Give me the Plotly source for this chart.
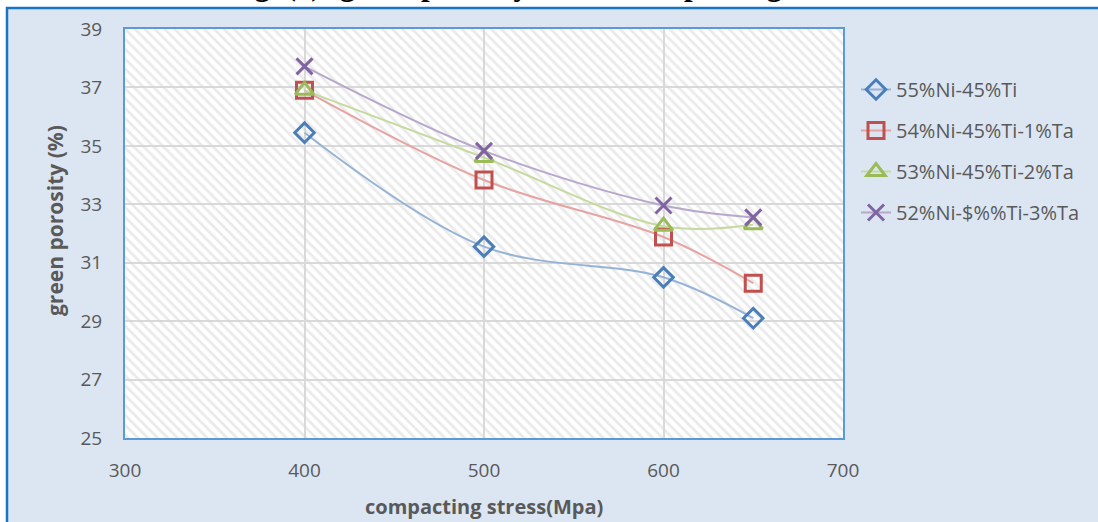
import plotly.graph_objects as go

# Compacting stress (MPa) and green porosity (%) for each alloy
stress = [400, 500, 600, 650]
series_names = [
    "55%Ni-45%Ti",
    "54%Ni-45%Ti-1%Ta",
    "53%Ni-45%Ti-2%Ta",
    "52%Ni-$%%Ti-3%Ta",
]
porosity_55ni = [35.45, 31.55, 30.5, 29.1]
porosity_54ni = [36.9, 33.83, 31.88, 30.3]
porosity_53ni = [36.9, 34.6, 32.25, 32.3]
porosity_52ni = [37.72, 34.83, 32.96, 32.55]

x_ticks = [300, 400, 500, 600, 700]
y_ticks = [25, 27, 29, 31, 33, 35, 37, 39]

X_MIN, X_MAX = x_ticks[0], x_ticks[-1]
Y_MIN, Y_MAX = y_ticks[0], y_ticks[-1]

TEXT_GREY = "#595959"
FONT = "Open Sans"

styles = [
    dict(line="#95b3d7", marker="#4a7ebb", symbol="diamond-open", size=15),
    dict(line="#e6a3a1", marker="#c0504d", symbol="square-open", size=16),
    dict(line="#c6da9f", marker="#9bbb59", symbol="triangle-up-open", size=16),
    dict(line="#b7a7cc", marker="#8064a2", symbol="x-thin-open", size=16),
]
values = [porosity_55ni, porosity_54ni, porosity_53ni, porosity_52ni]

fig = go.Figure()

# diagonal hatch over the plotting area
fig.add_trace(go.Scatter(
    x=[X_MIN, X_MAX, X_MAX, X_MIN, X_MIN],
    y=[Y_MIN, Y_MIN, Y_MAX, Y_MAX, Y_MIN],
    mode="none",
    fill="toself",
    fillcolor="rgba(0,0,0,0)",
    fillpattern=dict(shape="\\", fgcolor="#d6d6d6", bgcolor="rgba(0,0,0,0)",
                     size=7, solidity=0.4),
    hoverinfo="skip",
    showlegend=False,
))

for i, (name, ys, st) in enumerate(zip(series_names, values, styles)):
    fig.add_trace(go.Scatter(
        x=stress, y=ys, name=name,
        mode="lines+markers",
        line=dict(color=st["line"], width=2, shape="spline", smoothing=1),
        marker=dict(symbol=st["symbol"], size=st["size"], color=st["marker"],
                    line=dict(color=st["marker"], width=3)),
        legendgroup=f"g{i}",
    ))

L, R, T, B = 125, 255, 29, 84
plot_w = 1098 - L - R
plot_h = 522 - T - B


def px_x(px):
    return (px - L) / plot_w


def px_y(py):
    return (522 - B - py) / plot_h


fig.update_layout(
    width=1098, height=522,
    margin=dict(l=L, r=R, t=T, b=B),
    paper_bgcolor="white",
    plot_bgcolor="white",
    showlegend=True,
    legend=dict(
        x=px_x(856), y=px_y(70), xanchor="left", yanchor="top",
        font=dict(family=FONT, size=20, color=TEXT_GREY),
        bgcolor="rgba(0,0,0,0)",
        tracegroupgap=12,
    ),
    shapes=[
        # outer chart panel
        dict(type="rect", xref="paper", yref="paper",
             x0=px_x(7), x1=px_x(1200), y0=px_y(600), y1=px_y(8),
             fillcolor="#dce6f2", line=dict(color="#1a73c4", width=2.5),
             layer="below"),
        # white plotting area
        dict(type="rect", xref="x", yref="y",
             x0=X_MIN, x1=X_MAX, y0=Y_MIN, y1=Y_MAX,
             fillcolor="white", line=dict(width=0), layer="below"),
    ],
    annotations=[
        dict(text="<b>Fig. (4): green porosity versus compacting stress.</b>",
             xref="paper", yref="paper", x=px_x(549), y=px_y(4),
             xanchor="center", yanchor="bottom", showarrow=False,
             font=dict(family="Liberation Serif", size=31, color="black")),
        dict(text="<b>green porosity (%)</b>",
             xref="paper", yref="paper", x=px_x(55), y=px_y(221),
             xanchor="center", yanchor="middle", textangle=-90, showarrow=False,
             font=dict(family=FONT, size=21, color=TEXT_GREY)),
        dict(text="<b>compacting stress(Mpa)</b>",
             xref="paper", yref="paper", x=px_x(484), y=px_y(506),
             xanchor="center", yanchor="middle", showarrow=False,
             font=dict(family=FONT, size=20, color=TEXT_GREY)),
    ],
)

fig.update_xaxes(
    range=[X_MIN, X_MAX], tickvals=x_ticks, ticks="",
    showgrid=True, gridcolor="#d9d9d9", gridwidth=2,
    showline=True, mirror=True, linecolor="#5b9bd5", linewidth=2,
    zeroline=False, ticklabelstandoff=14,
    tickfont=dict(family=FONT, size=19, color=TEXT_GREY),
)
fig.update_yaxes(
    range=[Y_MIN, Y_MAX], tickvals=y_ticks, ticks="",
    showgrid=True, gridcolor="#d9d9d9", gridwidth=2,
    showline=True, mirror=True, linecolor="#5b9bd5", linewidth=2,
    zeroline=False, ticklabelstandoff=17,
    tickfont=dict(family=FONT, size=19, color=TEXT_GREY),
)

fig.write_html("out.html")
